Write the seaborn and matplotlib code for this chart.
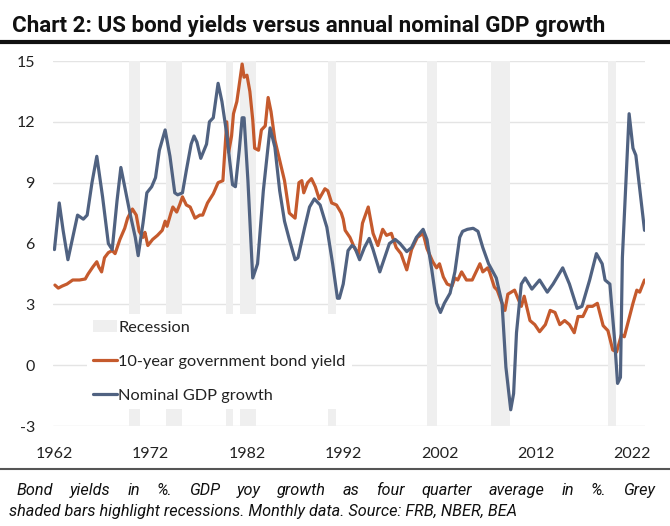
import numpy as np
import pandas as pd
import seaborn as sns
import matplotlib.pyplot as plt
from matplotlib.patches import Patch
from matplotlib.lines import Line2D

# 10-year government bond yield
yield_years = [1962.05, 1962.4, 1962.8, 1963.3, 1963.9, 1964.6, 1965.2, 1965.5, 1966.0, 1966.4,
               1966.6, 1966.9, 1967.2, 1967.6, 1968.0, 1968.3, 1968.8, 1969.3, 1969.6, 1970.1,
               1970.5, 1970.8, 1971.2, 1971.4, 1971.7, 1972.2, 1972.7, 1973.2, 1973.5, 1973.7,
               1974.1, 1974.3, 1974.7, 1975.0, 1975.3, 1975.7, 1976.1, 1976.6, 1977.1, 1977.4,
               1977.9, 1978.5, 1979.0, 1979.5, 1979.9, 1980.1, 1980.4, 1980.6, 1980.95, 1981.5,
               1981.7, 1982.0, 1982.3, 1982.6, 1982.8, 1983.2, 1983.5, 1983.9, 1984.2, 1984.5,
               1984.9, 1985.4, 1985.9, 1986.4, 1987.0, 1987.4, 1987.7, 1987.9, 1988.3, 1988.7,
               1989.1, 1989.5, 1990.1, 1990.4, 1990.8, 1991.3, 1991.8, 1992.0, 1992.2, 1992.7,
               1993.2, 1993.6, 1994.0, 1994.6, 1995.1, 1995.6, 1996.1, 1996.5, 1997.0, 1997.5,
               1998.0, 1998.6, 1999.1, 1999.7, 2000.3, 2000.7, 2001.3, 2001.7, 2002.0, 2002.4,
               2002.8, 2003.3, 2003.6, 2003.9, 2004.3, 2004.8, 2005.4, 2006.2, 2006.5, 2007.0,
               2007.2, 2007.7, 2008.0, 2008.5, 2008.8, 2009.1, 2009.8, 2010.1, 2010.5, 2010.8,
               2011.4, 2011.9, 2012.4, 2013.0, 2013.5, 2014.0, 2014.5, 2015.0, 2015.5, 2016.0,
               2016.4, 2016.9, 2017.4, 2017.9, 2018.4, 2019.0, 2019.5, 2020.0, 2020.4, 2020.9,
               2021.2, 2021.5, 2022.1, 2022.5, 2022.8, 2023.3]
bond_yield = [3.95, 3.8, 3.9, 4.0, 4.2, 4.2, 4.25, 4.5, 4.85, 5.1,
              4.85, 4.6, 5.3, 5.55, 5.65, 5.5, 6.2, 6.75, 7.25, 7.7,
              7.4, 6.6, 6.3, 6.55, 5.9, 6.2, 6.4, 6.65, 7.1, 6.85,
              7.5, 7.8, 7.55, 7.9, 8.3, 7.9, 7.8, 7.25, 7.4, 7.4,
              8.0, 8.45, 9.0, 9.1, 12.0, 10.5, 11.3, 12.4, 13.0, 14.85,
              14.2, 14.3, 13.5, 12.1, 10.7, 10.6, 11.6, 11.8, 13.2, 12.5,
              11.1, 10.1, 9.1, 7.5, 7.25, 9.0, 9.1, 8.5, 9.0, 9.2,
              8.8, 8.2, 8.7, 8.6, 8.0, 7.9, 7.5, 7.2, 6.65, 6.3,
              5.75, 5.5, 7.0, 7.8, 6.5, 5.9, 6.7, 6.4, 6.5, 5.8,
              5.5, 4.7, 5.7, 6.3, 6.5, 5.75, 5.1, 4.8, 5.0, 4.35,
              4.0, 3.9, 4.3, 4.2, 4.6, 4.2, 4.2, 5.0, 4.6, 4.8,
              4.6, 3.85, 3.7, 3.05, 2.7, 3.5, 3.7, 3.35, 2.9, 3.4,
              2.2, 2.0, 1.65, 2.0, 2.7, 2.6, 2.0, 2.2, 2.0, 1.6,
              2.4, 2.4, 2.9, 2.9, 3.05, 1.95, 1.7, 0.75, 0.65, 1.5,
              1.4, 1.95, 3.05, 3.7, 3.6, 4.2]

# Nominal GDP growth (yoy, four quarter average)
gdp_years = [1962.0, 1962.5, 1962.9, 1963.4, 1963.9, 1964.4, 1965.0, 1965.4, 1965.9, 1966.4,
             1967.0, 1967.6, 1968.0, 1968.5, 1968.9, 1969.3, 1969.8, 1970.4, 1970.7, 1971.2,
             1971.6, 1972.1, 1972.5, 1972.9, 1973.5, 1974.0, 1974.5, 1974.8, 1975.3, 1975.7,
             1976.2, 1976.5, 1976.8, 1977.2, 1977.8, 1978.1, 1978.5, 1979.0, 1979.4, 1979.9,
             1980.2, 1980.5, 1980.8, 1981.2, 1981.5, 1981.7, 1982.1, 1982.4, 1982.6, 1983.1,
             1983.7, 1984.4, 1984.9, 1985.4, 1985.9, 1986.4, 1987.0, 1987.3, 1988.0, 1988.5,
             1989.0, 1989.6, 1990.3, 1990.9, 1991.4, 1991.6, 1992.0, 1992.5, 1992.9, 1993.2,
             1993.7, 1994.2, 1994.7, 1995.1, 1995.8, 1996.3, 1996.8, 1997.4, 1997.9, 1998.6,
             1999.1, 1999.6, 2000.3, 2000.7, 2001.2, 2001.7, 2002.1, 2002.5, 2003.1, 2003.6,
             2004.1, 2004.4, 2004.9, 2005.5, 2006.0, 2006.5, 2007.1, 2007.9, 2008.5, 2008.9,
             2009.4, 2009.7, 2010.0, 2010.5, 2010.9, 2011.6, 2012.4, 2013.2, 2013.8, 2014.3,
             2014.8, 2015.5, 2016.3, 2016.8, 2017.6, 2018.3, 2018.9, 2019.2, 2019.7, 2020.2,
             2020.5, 2020.8, 2021.0, 2021.7, 2022.1, 2022.4, 2023.3]
gdp_growth = [5.7, 8.0, 6.65, 5.2, 6.3, 7.4, 7.2, 7.4, 9.0, 10.3,
              8.3, 6.0, 5.7, 8.1, 9.75, 8.8, 7.6, 6.3, 5.4, 7.0,
              8.5, 8.8, 9.25, 10.6, 11.6, 10.3, 8.5, 8.4, 8.5, 9.6,
              10.9, 11.3, 11.0, 10.2, 10.9, 12.0, 12.2, 13.9, 13.0, 11.4,
              10.1, 8.9, 8.8, 10.6, 12.2, 12.2, 9.1, 6.2, 4.3, 5.0,
              8.6, 11.7, 10.75, 8.6, 7.1, 6.2, 5.2, 5.3, 6.8, 7.8,
              8.2, 7.9, 6.8, 5.0, 3.3, 3.3, 4.0, 5.65, 5.9, 5.8,
              5.2, 5.8, 6.25, 5.7, 4.6, 5.3, 6.0, 6.2, 6.0, 5.6,
              5.8, 6.3, 6.7, 6.2, 4.7, 3.05, 2.6, 3.05, 3.55, 4.6,
              6.3, 6.6, 6.7, 6.75, 6.6, 5.8, 5.0, 4.3, 3.05, -0.1,
              -2.2, -1.4, 1.6, 4.0, 4.3, 3.75, 4.2, 3.6, 4.0, 4.4,
              4.8, 4.0, 2.8, 2.9, 4.2, 5.5, 5.0, 4.2, 4.0, 1.2,
              -0.9, -0.6, 5.3, 12.4, 10.7, 10.35, 6.65]

# recessions (shaded bars, as drawn)
rec_start = [1969.7, 1973.6, 1979.8, 1981.3, 1990.4, 2000.7, 2007.4, 2019.5]
rec_end = [1970.9, 1975.2, 1980.6, 1982.9, 1991.3, 2001.7, 2009.3, 2020.3]

x_ticks = [1962, 1972, 1982, 1992, 2002, 2012, 2022]
y_ticks = [-3, 0, 3, 6, 9, 12, 15]

title = 'Chart 2: US bond yields versus annual nominal GDP growth'
note_1 = 'Bond yields in %. GDP yoy growth as four quarter average in %. Grey'
note_2 = 'shaded bars highlight recessions. Monthly data. Source: FRB, NBER, BEA'
yield_label = '10-year government bond yield'
gdp_label = 'Nominal GDP growth'
orange = '#C55A2D'
slate = '#506281'
rec_grey = '#EFEFEF'

df = pd.concat([
    pd.DataFrame({'year': yield_years, 'value': bond_yield, 'series': yield_label}),
    pd.DataFrame({'year': gdp_years, 'value': gdp_growth, 'series': gdp_label}),
])

sns.set_style('white')
plt.rcParams['font.family'] = ['Lato', 'DejaVu Sans']

fig = plt.figure(figsize=(6.7, 5.26), dpi=100)
ax = fig.add_axes([53 / 670, 1 - 426 / 526, 592 / 670, 365 / 526])

for s, e in zip(rec_start, rec_end):
    ax.axvspan(s, e, color=rec_grey, lw=0, zorder=1)

sns.lineplot(data=df, x='year', y='value', hue='series',
             palette={yield_label: orange, gdp_label: slate},
             linewidth=2.3, ax=ax, legend=False, zorder=3)

ax.set_xlim(1961.85, 2023.35)
ax.set_ylim(-3, 15)
ax.set_xticks(x_ticks)
ax.set_yticks(y_ticks)
ax.set_yticklabels([str(v) for v in y_ticks])
ax.grid(axis='y', color='#E4E4E4', lw=1.0, zorder=0)
ax.set_axisbelow(True)
for sp in ax.spines.values():
    sp.set_visible(False)
ax.tick_params(axis='both', length=0, labelsize=11.5, colors='#222222')
ax.tick_params(axis='y', pad=13)
ax.tick_params(axis='x', pad=15)
ax.set_xlabel('')
ax.set_ylabel('')

handles = [Patch(facecolor=rec_grey, edgecolor='none'),
           Line2D([], [], color=orange, lw=2.3),
           Line2D([], [], color=slate, lw=2.3)]
leg = ax.legend(handles, ['Recession', yield_label, gdp_label],
                loc='upper left', bbox_to_anchor=(0.057, 0.308), frameon=True,
                facecolor='white', edgecolor='none', framealpha=1, fancybox=False,
                fontsize=11.8, handlelength=1.45, handletextpad=0.08,
                labelspacing=1.2, borderpad=0.4, borderaxespad=0)
leg.set_zorder(5)
for t in leg.get_texts():
    t.set_color('#222222')

renderer = fig.canvas.get_renderer()

# title, sized to the width it has in the original
t = fig.text(12 / 670, 1 - 26 / 526, title, fontsize=15, fontweight='bold',
             family=['Liberation Sans Narrow', 'Roboto'], va='center', ha='left',
             color='#111111')
w = t.get_window_extent(renderer).width
t.set_fontsize(15 * 596 / w)

fig.add_artist(Line2D([0, 1], [1 - 42 / 526, 1 - 42 / 526], transform=fig.transFigure,
                      color='#111111', lw=3))
fig.add_artist(Line2D([0, 1], [1 - 469 / 526, 1 - 469 / 526], transform=fig.transFigure,
                      color='#555555', lw=1.5))

# note: second line at its natural width, first line justified
note_font = dict(style='italic', family=['Roboto', 'DejaVu Sans'],
                 va='baseline', ha='left', color='#111111')
t2 = fig.text(9 / 670, 1 - 516 / 526, note_2, fontsize=12, **note_font)
size = 12 * 505 / t2.get_window_extent(renderer).width
t2.set_fontsize(size)

words = note_1.split()
word_texts = [fig.text(0, 1 - 495 / 526, wd, fontsize=size, **note_font) for wd in words]
widths = [wt.get_window_extent(renderer).width for wt in word_texts]
gap = (638 - sum(widths)) / (len(words) - 1)
x = 17.0
for wt, wd in zip(word_texts, widths):
    wt.set_x(x / 670)
    x += wd + gap

fig.savefig('out.png', dpi=100)
